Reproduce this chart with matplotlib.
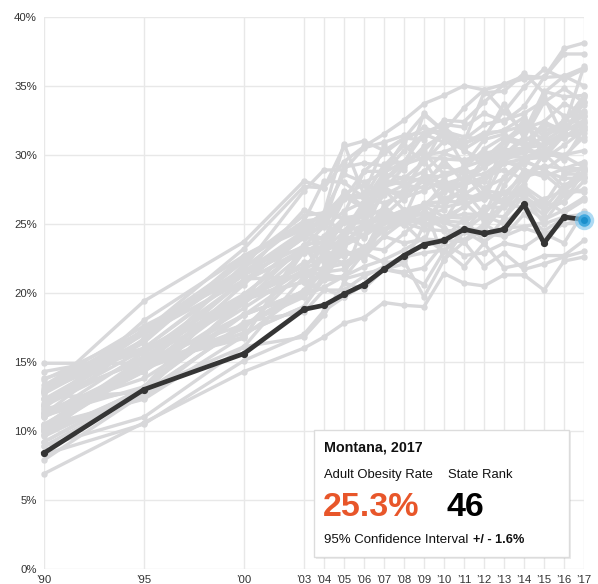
import matplotlib
matplotlib.use("Agg")
import matplotlib.pyplot as plt
from matplotlib.patches import Rectangle

years = [1990, 1995, 2000, 2003, 2004, 2005, 2006, 2007, 2008, 2009,
         2010, 2011, 2012, 2013, 2014, 2015, 2016, 2017]
tick_years = [1990, 1995, 2000] + list(range(2003, 2018))
tick_labels = ["’90", "’95", "’00"] + ["’%02d" % (y - 2000) for y in range(2003, 2018)]
y_ticks = [0, 5, 10, 15, 20, 25, 30, 35, 40]
y_labels = ["%d%%" % v for v in y_ticks]

montana = [8.4, 13.0, 15.6, 18.8, 19.1, 19.9, 20.6, 21.7, 22.7, 23.5,
           23.8, 24.6, 24.3, 24.6, 26.4, 23.6, 25.5, 25.3]

states = ["AL", "AK", "AZ", "AR", "CA", "CO", "CT", "DE", "DC", "FL", "GA", "HI",
          "ID", "IL", "IN", "IA", "KS", "KY", "LA", "ME", "MD", "MA", "MI", "MN",
          "MS", "MO", "NE", "NV", "NH", "NJ", "NM", "NY", "NC", "ND", "OH", "OK",
          "OR", "PA", "RI", "SC", "SD", "TN", "TX", "UT", "VT", "VA", "WA", "WV",
          "WI", "WY"]

AL = [11.2, 16.7, 21.8, 27.4, 28.9, 28.9, 30.5, 30.9, 31.4, 31.6, 32.2, 32.0, 33.0, 32.4, 33.5, 35.6, 35.7, 36.3]
AK = [9.2, 13.0, 19.3, 23.5, 23.7, 27.4, 26.2, 27.5, 26.0, 24.8, 25.2, 27.4, 25.7, 28.4, 29.7, 29.8, 31.4, 34.2]
AZ = [8.9, 12.8, 17.6, 20.1, 20.9, 21.1, 22.9, 25.8, 25.1, 25.9, 25.2, 25.1, 26.0, 26.8, 28.9, 28.4, 29.0, 29.5]
AR = [13.0, 17.3, 22.3, 25.2, 28.1, 28.0, 26.9, 29.3, 29.5, 31.5, 30.9, 30.9, 34.5, 34.6, 35.9, 34.5, 35.7, 35.0]
CA = [10.0, 14.6, 19.9, 23.2, 22.2, 22.7, 23.3, 23.1, 24.3, 25.5, 24.7, 23.8, 25.0, 24.1, 24.7, 24.2, 25.0, 25.1]
CO = [6.9, 10.6, 14.3, 16.0, 16.8, 17.8, 18.2, 19.3, 19.1, 19.0, 21.4, 20.7, 20.5, 21.3, 21.3, 20.2, 22.3, 22.6]
CT = [10.4, 12.3, 16.9, 20.1, 20.3, 19.7, 20.6, 21.7, 21.4, 20.6, 23.0, 24.5, 25.6, 25.0, 26.3, 25.3, 26.0, 26.9]
DE = [14.9, 14.9, 16.7, 23.5, 21.1, 23.5, 25.1, 28.2, 27.8, 27.6, 28.7, 28.8, 26.9, 31.1, 30.7, 29.7, 30.7, 31.8]
DC = [12.4, 12.8, 19.6, 21.6, 21.8, 22.1, 22.9, 22.2, 22.3, 19.7, 22.4, 23.7, 21.9, 22.9, 21.7, 22.1, 22.6, 23.0]
FL = [10.1, 14.7, 18.4, 20.1, 22.8, 22.8, 22.9, 24.1, 25.2, 26.5, 26.6, 26.6, 25.2, 26.4, 26.2, 26.8, 27.4, 28.4]
GA = [10.1, 14.7, 22.1, 23.2, 23.1, 25.1, 25.1, 27.3, 27.3, 27.7, 29.6, 28.0, 29.1, 30.3, 30.5, 30.7, 31.4, 31.6]
HI = [8.3, 10.5, 15.1, 17.0, 18.7, 19.7, 20.6, 21.7, 22.6, 22.9, 23.1, 21.9, 23.6, 21.8, 22.1, 22.7, 22.7, 23.8]
ID = [11.4, 13.8, 18.4, 21.4, 21.8, 24.5, 24.1, 25.1, 25.2, 25.1, 26.9, 27.1, 26.8, 29.6, 28.9, 28.6, 27.4, 29.3]
IL = [12.3, 15.1, 20.9, 22.9, 23.3, 25.1, 25.1, 25.6, 26.9, 27.4, 28.2, 27.1, 28.1, 29.4, 29.3, 30.8, 31.6, 31.1]
IN = [13.3, 17.6, 21.3, 26.0, 25.5, 27.2, 27.8, 27.4, 27.0, 30.0, 30.2, 30.8, 31.4, 31.8, 32.7, 31.3, 32.5, 33.6]
IA = [12.8, 17.0, 20.9, 24.0, 25.7, 25.4, 25.7, 27.7, 26.7, 28.5, 28.4, 29.0, 30.4, 31.3, 30.9, 32.1, 32.0, 36.4]
KS = [11.1, 13.2, 20.8, 23.2, 23.2, 23.9, 25.9, 27.7, 28.1, 28.8, 30.1, 29.6, 29.9, 30.0, 31.3, 34.2, 31.2, 32.4]
KY = [12.7, 16.6, 22.3, 25.6, 25.8, 28.6, 28.0, 28.7, 30.3, 31.5, 31.8, 30.4, 31.3, 33.2, 31.6, 34.6, 34.2, 34.3]
LA = [12.3, 16.4, 22.6, 24.8, 25.8, 30.8, 27.1, 30.7, 28.9, 33.0, 31.7, 33.4, 34.7, 33.1, 34.9, 36.2, 35.5, 36.2]
ME = [11.4, 14.3, 19.7, 20.8, 23.0, 22.7, 23.1, 25.2, 25.9, 26.4, 27.4, 27.8, 28.4, 28.9, 28.2, 30.0, 29.9, 29.1]
MD = [11.0, 15.7, 19.5, 20.8, 21.2, 24.4, 24.9, 25.4, 26.0, 26.2, 27.9, 28.3, 27.6, 28.3, 29.6, 28.9, 29.9, 31.3]
MA = [8.9, 11.0, 16.1, 16.8, 18.4, 20.7, 20.3, 21.7, 21.5, 21.8, 23.6, 22.7, 22.9, 23.6, 23.3, 24.3, 23.6, 25.9]
MI = [13.1, 17.2, 21.8, 25.2, 25.4, 24.4, 26.2, 28.2, 29.5, 30.3, 31.7, 31.3, 31.1, 31.5, 30.7, 31.2, 32.5, 32.3]
MN = [10.4, 15.0, 16.8, 23.0, 23.0, 23.7, 24.7, 26.0, 25.2, 25.4, 25.4, 25.7, 25.7, 25.5, 27.6, 26.1, 27.8, 28.4]
MS = [12.8, 19.4, 23.7, 28.1, 27.6, 29.5, 30.6, 31.5, 32.5, 33.7, 34.3, 35.0, 34.7, 35.1, 35.5, 35.6, 37.3, 37.3]
MO = [12.0, 17.1, 21.6, 24.0, 24.9, 26.9, 27.2, 27.5, 29.1, 30.6, 31.4, 30.3, 29.6, 30.4, 30.2, 32.4, 31.7, 32.5]
NE = [10.5, 14.3, 20.6, 24.6, 25.3, 26.9, 26.9, 26.5, 27.2, 28.1, 27.5, 28.4, 28.6, 29.6, 30.2, 31.4, 32.0, 32.8]
NV = [9.8, 13.0, 16.1, 21.2, 21.1, 21.2, 25.0, 24.6, 25.6, 26.4, 22.4, 24.5, 26.2, 26.2, 27.7, 26.7, 25.8, 26.7]
NH = [10.3, 14.7, 17.1, 19.0, 21.0, 23.1, 22.4, 25.1, 24.9, 26.3, 25.5, 26.2, 27.3, 26.7, 27.4, 26.3, 26.6, 28.1]
NJ = [9.7, 15.2, 17.7, 19.7, 21.9, 22.1, 22.6, 24.1, 23.6, 23.9, 23.8, 23.7, 24.6, 26.3, 26.9, 25.6, 27.4, 27.3]
NM = [7.9, 12.7, 17.7, 20.2, 21.5, 21.7, 22.9, 25.1, 25.7, 25.6, 25.1, 26.3, 27.1, 26.4, 28.4, 28.8, 28.3, 28.3]
NY = [10.2, 14.7, 17.4, 21.7, 22.5, 22.2, 22.9, 25.5, 25.1, 24.6, 24.5, 24.5, 23.6, 25.4, 27.0, 25.0, 25.5, 25.7]
NC = [12.9, 16.0, 21.3, 23.4, 24.8, 25.9, 26.6, 28.7, 29.5, 30.1, 28.6, 29.1, 29.6, 29.4, 29.7, 30.1, 31.8, 32.1]
ND = [11.9, 15.9, 19.9, 23.3, 24.1, 25.4, 25.1, 27.1, 27.8, 28.4, 27.9, 27.8, 29.7, 31.0, 32.2, 31.0, 31.9, 33.2]
OH = [11.8, 17.4, 21.3, 24.2, 24.9, 24.3, 26.0, 28.1, 29.3, 29.8, 29.7, 29.6, 30.1, 30.4, 32.6, 29.8, 31.5, 33.8]
OK = [11.6, 13.0, 19.6, 24.4, 23.9, 26.8, 28.8, 28.8, 31.0, 32.0, 31.3, 31.1, 32.2, 32.5, 33.0, 33.9, 32.8, 32.8]
OR = [11.2, 14.7, 21.0, 21.2, 21.5, 23.8, 24.1, 26.3, 25.0, 23.6, 27.6, 26.7, 27.3, 26.5, 27.9, 30.1, 28.7, 29.0]
PA = [14.3, 15.6, 20.9, 24.0, 23.9, 25.3, 24.0, 27.8, 28.4, 28.1, 29.2, 28.6, 29.1, 30.0, 30.2, 30.3, 30.0, 30.3]
RI = [10.0, 14.5, 17.1, 19.0, 21.4, 21.0, 21.4, 21.7, 22.1, 24.9, 25.5, 25.4, 25.7, 27.3, 27.0, 26.0, 26.6, 28.8]
SC = [13.8, 16.0, 21.5, 24.5, 25.1, 29.1, 29.4, 29.2, 30.7, 29.4, 32.0, 30.8, 31.6, 31.7, 32.1, 31.7, 32.3, 34.3]
SD = [10.4, 15.3, 19.2, 22.9, 23.8, 25.5, 25.4, 26.1, 27.5, 29.6, 27.3, 28.1, 28.1, 29.9, 29.8, 30.4, 29.6, 31.9]
TN = [11.6, 18.0, 22.7, 25.0, 22.5, 25.7, 28.8, 30.1, 31.2, 32.9, 31.7, 29.2, 31.1, 33.7, 31.2, 33.8, 34.8, 33.8]
TX = [11.9, 16.5, 22.7, 24.6, 25.8, 27.0, 26.1, 28.6, 28.3, 29.5, 31.0, 30.4, 29.2, 30.9, 31.9, 32.4, 33.7, 33.0]
UT = [9.6, 13.1, 18.5, 19.8, 20.4, 21.2, 21.9, 22.4, 23.1, 24.0, 23.0, 24.4, 24.3, 24.1, 25.7, 24.5, 25.4, 25.0]
VT = [10.1, 12.4, 17.9, 18.6, 20.2, 20.2, 21.2, 21.9, 22.7, 23.4, 23.9, 25.4, 23.7, 24.7, 24.8, 25.1, 27.1, 27.5]
VA = [11.0, 14.3, 18.9, 21.7, 23.7, 25.1, 25.1, 25.3, 25.8, 25.7, 26.0, 29.2, 27.4, 27.2, 28.5, 29.2, 29.0, 29.0]
WA = [9.2, 13.2, 19.3, 22.2, 22.4, 23.4, 24.2, 25.4, 26.0, 26.4, 26.2, 26.5, 26.8, 27.2, 27.3, 26.4, 28.6, 28.6]
WV = [13.7, 17.2, 23.2, 27.7, 27.6, 30.6, 31.0, 30.3, 31.2, 31.1, 32.5, 32.4, 33.8, 35.1, 35.7, 35.6, 37.7, 38.1]
WI = [11.8, 15.4, 19.8, 21.9, 23.2, 24.4, 26.6, 25.3, 25.4, 28.7, 26.3, 27.7, 29.7, 29.8, 31.2, 30.7, 31.2, 32.0]
WY = [8.4, 13.2, 18.4, 20.1, 21.7, 24.2, 23.3, 24.5, 25.2, 25.4, 25.1, 24.6, 24.6, 27.8, 29.5, 29.0, 27.7, 28.8]

other_values = [AL, AK, AZ, AR, CA, CO, CT, DE, DC, FL, GA, HI, ID, IL, IN, IA, KS,
                KY, LA, ME, MD, MA, MI, MN, MS, MO, NE, NV, NH, NJ, NM, NY, NC, ND,
                OH, OK, OR, PA, RI, SC, SD, TN, TX, UT, VT, VA, WA, WV, WI, WY]

tooltip_title = "Montana, 2017"
rate_label = "Adult Obesity Rate"
rank_label = "State Rank"
rate_value = "25.3%"
rank_value = "46"
ci_label = "95% Confidence Interval"
ci_value = "+/ - 1.6%"

plt.rcParams['font.family'] = ['Liberation Sans', 'DejaVu Sans']

W, H = 598, 584
fig = plt.figure(figsize=(W / 100, H / 100), dpi=100)
ax = fig.add_axes([44 / W, 15 / H, 540 / W, 552.3 / H])

gray = '#d8d8da'
for vals in other_values:
    ax.plot(years, vals, color=gray, lw=2.4, marker='o', ms=3.6,
            mec=gray, mfc=gray, solid_joinstyle='round', clip_on=False, zorder=2)

ax.plot(years, montana, color='#353535', lw=3.4, marker='o', ms=4.2,
        solid_joinstyle='round', clip_on=False, zorder=4)
ax.plot([years[-1]], [montana[-1]], 'o', ms=14, color='#8ccbee', alpha=0.7,
        mec='none', clip_on=False, zorder=5)
ax.plot([years[-1]], [montana[-1]], 'o', ms=9, color='#3aa6df', alpha=0.9,
        mec='none', clip_on=False, zorder=5)
ax.plot([years[-1]], [montana[-1]], 'o', ms=5, color='#1b8fcc',
        mec='none', clip_on=False, zorder=6)

ax.set_xlim(1990, 2017)
ax.set_ylim(0, 40)
ax.set_xticks(tick_years)
ax.set_xticklabels(tick_labels, family=['Liberation Sans Narrow', 'Liberation Sans'])
ax.set_yticks(y_ticks)
ax.set_yticklabels(y_labels, family=['Liberation Sans Narrow', 'Liberation Sans'])
ax.tick_params(length=0, labelsize=8.2, colors='#333333')
ax.tick_params(axis='x', pad=4)
ax.tick_params(axis='y', pad=5)
ax.grid(True, color='#e8e8e8', lw=1.0, zorder=0)
ax.set_axisbelow(True)
for s in ax.spines.values():
    s.set_visible(False)

def fx(px):
    return px / W

def fy(py):
    return 1 - py / H

shadow = Rectangle((fx(316), fy(559)), (569 - 314) / W, (557 - 430) / H,
                   transform=fig.transFigure, facecolor='#000000', alpha=0.08,
                   edgecolor='none', zorder=9)
fig.patches.append(shadow)
box = Rectangle((fx(314), fy(557)), (569 - 314) / W, (557 - 430) / H,
                transform=fig.transFigure, facecolor='white',
                edgecolor='#dcdcdc', lw=1.0, zorder=10)
fig.patches.append(box)

fig.text(fx(324), fy(452), tooltip_title, fontsize=10.3, fontweight='bold',
         color='#111111', ha='left', va='baseline', zorder=11)
fig.text(fx(324), fy(478), rate_label, fontsize=9.4, color='#111111',
         ha='left', va='baseline', zorder=11)
fig.text(fx(448), fy(478), rank_label, fontsize=9.4, color='#111111',
         ha='left', va='baseline', zorder=11)
fig.text(fx(323), fy(516), rate_value, fontsize=24.5, fontweight='bold',
         color='#e8562a', ha='left', va='baseline', zorder=11)
fig.text(fx(447), fy(516), rank_value, fontsize=24.5, fontweight='bold',
         color='#000000', ha='left', va='baseline', zorder=11)
fig.text(fx(324), fy(543), ci_label, fontsize=9.5, color='#111111',
         ha='left', va='baseline', zorder=11)
fig.text(fx(473), fy(543), ci_value, fontsize=9.2, fontweight='bold',
         color='#111111', ha='left', va='baseline', zorder=11)

fig.savefig('out.png', dpi=100)
